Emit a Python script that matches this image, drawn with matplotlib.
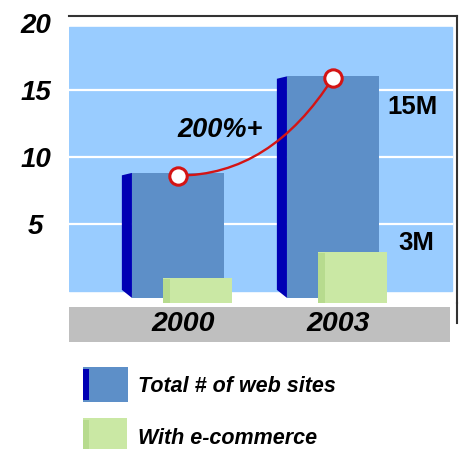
import numpy as np
import matplotlib
matplotlib.use("Agg")
import matplotlib.pyplot as plt
from matplotlib.patches import Rectangle, Polygon, PathPatch
from matplotlib.path import Path
import matplotlib.transforms as mtransforms

# data (millions of web sites)
years = ["2000", "2003"]
total_sites = [8.8, 16.0]
ecommerce_sites = [1.0, 2.9]
y_ticks = [5, 10, 15, 20]
value_labels = ["15M", "3M"]
growth_label = "200%+"
legend_labels = ["Total # of web sites", "With e-commerce"]

W, H = 462, 449
FONT = "Liberation Sans"

sky = "#99ccff"
front_blue = "#5d8fc8"
side_blue = "#0000b4"
green = "#cae8a4"
green_side = "#b7db8e"
grey = "#bfbfbf"
red = "#d41414"

fig = plt.figure(figsize=(W / 100, H / 100), dpi=100)
fig.patch.set_facecolor("white")

# axes box in pixels: left 69, right 457, top 16, bottom 303
ax = fig.add_axes([69 / W, 1 - 303 / H, 388 / W, 287 / H])
ax.set_xlim(-0.703, 1.8)
ax.set_ylim(-0.9, 20.5)
ax.set_facecolor("white")

# blue background and white gridlines
ax.axhspan(0, 19.7, xmin=0, xmax=0.987, color=sky, zorder=0)
for v in y_ticks[:-1]:
    ax.axhline(v, xmin=0, xmax=0.987, color="white", lw=1.6, zorder=1)

x = np.arange(len(years))
blue_w = 0.594
side_w = 0.065
blue_base = -0.52

# blue bars: front face + dark slanted side
ax.bar(x, np.array(total_sites) - blue_base, bottom=blue_base, width=blue_w,
       color=front_blue, zorder=2)
for xi, t in zip(x, total_sites):
    xl = xi - blue_w / 2
    side = Polygon([(xl - side_w, t - 0.18), (xl, t), (xl, blue_base),
                    (xl - side_w, blue_base + 0.6)], closed=True,
                   facecolor=side_blue, edgecolor="none", zorder=2)
    ax.add_patch(side)

# green bars
g_off = 0.128
g_w = 0.445
g_base = -0.9
ax.bar(x + g_off, np.array(ecommerce_sites) - g_base, bottom=g_base, width=g_w,
       color=green, zorder=3)
ax.bar(x + g_off - g_w / 2 + 0.02, np.array(ecommerce_sites) - g_base - 0.1,
       bottom=g_base, width=0.04, color=green_side, zorder=3)

# growth curve between the bar tops
p0 = (x[0], total_sites[0] - 0.2)
p2 = (x[1], total_sites[1] - 0.1)
ctrl = (x[0] + 0.6 * (x[1] - x[0]), total_sites[0] - 0.2)
curve = Path([p0, ctrl, p2], [Path.MOVETO, Path.CURVE3, Path.CURVE3])
ax.add_patch(PathPatch(curve, facecolor="none", edgecolor=red, lw=1.7, zorder=4))
ax.plot([p0[0], p2[0]], [p0[1], p2[1]], "o", ms=12.5, mfc="white", mec=red,
        mew=2.2, zorder=5)

ax.text(0.271, 12.0, growth_label, fontsize=19.5, fontweight="bold",
        fontstyle="italic", family=FONT, ha="center", va="center", zorder=6)
ax.text(1.51, 13.7, value_labels[0], fontsize=18.5, fontweight="bold",
        family=FONT, ha="center", va="center")
ax.text(1.535, 3.58, value_labels[1], fontsize=18.5, fontweight="bold",
        family=FONT, ha="center", va="center")

# y ticks
ax.set_yticks(y_ticks)
ax.set_yticklabels([str(v) for v in y_ticks])
ax.tick_params(axis="y", length=0, pad=24)
for lab in ax.get_yticklabels():
    lab.set_ha("center")
    lab.set_fontsize(20)
    lab.set_fontweight("bold")
    lab.set_fontstyle("italic")
    lab.set_family(FONT)
ax.set_xticks([])

# frame: top and right only
for s in ["left", "bottom"]:
    ax.spines[s].set_visible(False)
for s in ["top", "right"]:
    ax.spines[s].set_color("#333333")
    ax.spines[s].set_linewidth(1.5)
ax.plot([1, 1], [0, -20 / 287], transform=ax.transAxes, color="#333333",
        lw=1.5, clip_on=False)

# grey category band with year labels
ax.add_patch(Rectangle((0, -39 / 287), 381 / 388, 35 / 287, transform=ax.transAxes,
                       facecolor=grey, edgecolor="none", clip_on=False))
trans = mtransforms.blended_transform_factory(ax.transData, ax.transAxes)
for xi, yr in zip(x, years):
    ax.text(xi + 0.035, -21 / 287, yr, transform=trans, fontsize=20.5,
            fontweight="bold", fontstyle="italic", family=FONT,
            ha="center", va="center", clip_on=False)

# legend drawn by hand to keep the 3d swatches
def px_rect(x0, y0, w, h, color):
    fig.add_artist(Rectangle((x0 / W, 1 - (y0 + h) / H), w / W, h / H,
                             transform=fig.transFigure, facecolor=color,
                             edgecolor="none"))

px_rect(83, 367, 45, 35, front_blue)
px_rect(83, 369, 6, 31, side_blue)
px_rect(83, 418, 44, 31, green)
px_rect(83, 420, 6, 29, green_side)
for lab, py in zip(legend_labels, [387, 438]):
    fig.text(138 / W, 1 - py / H, lab, fontsize=15.5, fontweight="bold",
             fontstyle="italic", family=FONT, ha="left", va="center")

fig.savefig("out.png", dpi=100)
